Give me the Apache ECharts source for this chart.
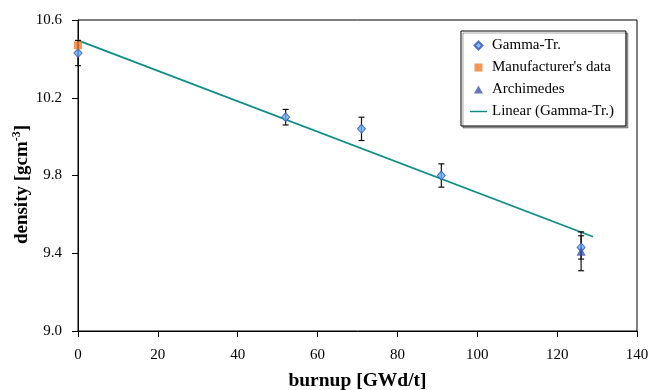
<!DOCTYPE html>
<html>
<head>
<meta charset="utf-8">
<script src="https://cdn.jsdelivr.net/npm/echarts@6/dist/echarts.min.js"></script>
<style>
  html, body { margin: 0; padding: 0; background: #fff; }
  #main { width: 661px; height: 390px; }
</style>
</head>
<body>
<div id="main"></div>
<script>
// values
var gammaX = [0, 52, 71, 91, 126];
var gammaY = [10.43, 10.10, 10.04, 9.80, 9.43];
var gammaErr = [0.065, 0.04, 0.06, 0.06, 0.06];
var manufX = [0];
var manufY = [10.47];
var archX = [126];
var archY = [9.41];
var archErr = [0.10];
var trendX = [0, 129];
var trendY = [10.495, 9.485];

var FONT = '"Liberation Serif", "Times New Roman", serif';

function zip(xs, ys) {
    return xs.map(function (x, i) { return [x, ys[i]]; });
}
function errData(xs, ys, es) {
    return xs.map(function (x, i) { return [x, ys[i] - es[i], ys[i] + es[i]]; });
}

function renderErr(params, api) {
    var lo = api.coord([api.value(0), api.value(1)]);
    var hi = api.coord([api.value(0), api.value(2)]);
    var w = 3;
    var st = { stroke: '#111', lineWidth: 1.2 };
    return {
        type: 'group',
        children: [
            { type: 'line', shape: { x1: lo[0], y1: lo[1], x2: hi[0], y2: hi[1] }, style: st },
            { type: 'line', shape: { x1: lo[0] - w, y1: lo[1], x2: lo[0] + w, y2: lo[1] }, style: st },
            { type: 'line', shape: { x1: hi[0] - w, y1: hi[1], x2: hi[0] + w, y2: hi[1] }, style: st }
        ]
    };
}

var chart = echarts.init(document.getElementById('main'), null, { renderer: 'canvas' });

var option = {
    backgroundColor: '#fff',
    animation: false,
    textStyle: { fontFamily: FONT },
    grid: {
        left: 78, right: 24, top: 20, bottom: 59,
        containLabel: false,
        outerBoundsMode: 'none',
        show: true, borderColor: '#000', borderWidth: 1
    },
    legend: {
        orient: 'vertical',
        left: 461, top: 31,
        padding: [7, 12, 7, 9],
        itemGap: 7,
        itemWidth: 17,
        itemHeight: 8,
        symbolKeepAspect: true,
        borderColor: '#000',
        borderWidth: 1,
        backgroundColor: '#fff',
        shadowColor: 'rgba(0,0,0,0.35)',
        shadowOffsetX: 2,
        shadowOffsetY: 2,
        textStyle: { fontFamily: FONT, fontSize: 15, color: '#000' },
        data: [
            { name: 'Gamma-Tr.', icon: 'path://M0,-1L1,0L0,1L-1,0Z' },
            { name: "Manufacturer's data", icon: 'path://M0,0H1V1H0Z' },
            { name: 'Archimedes', icon: 'path://M0,-1L1,0.8H-1Z' },
            { name: 'Linear (Gamma-Tr.)', icon: 'path://M0,0H20V1.7H0Z' }
        ]
    },
    xAxis: {
        type: 'value',
        min: 0, max: 140, interval: 20,
        name: 'burnup [GWd/t]',
        nameLocation: 'middle',
        nameGap: 40,
        nameTextStyle: { fontFamily: FONT, fontSize: 19.5, fontWeight: 'bold', color: '#000' },
        axisLine: { lineStyle: { color: '#000', width: 1 } },
        axisTick: { show: true, length: 6, inside: false, lineStyle: { color: '#000' } },
        axisLabel: { fontFamily: FONT, fontSize: 15, color: '#000', margin: 17 },
        splitLine: { show: false }
    },
    yAxis: {
        type: 'value',
        min: 9.0, max: 10.6, interval: 0.4,
        name: '{b|density [gcm}{s|-3}{b|]}',
        nameLocation: 'middle',
        nameGap: 45,
        nameMoveOverlap: false,
        nameTextStyle: {
            padding: [0, 18, 0, 0],
            rich: {
                b: { fontFamily: FONT, fontSize: 19, fontWeight: 'bold', color: '#000', lineHeight: 22 },
                s: { fontFamily: FONT, fontSize: 12, fontWeight: 'bold', color: '#000', verticalAlign: 'top', lineHeight: 22 }
            }
        },
        axisLine: { show: true, lineStyle: { color: '#000', width: 1 } },
        axisTick: { show: true, length: 6, inside: false, lineStyle: { color: '#000' } },
        axisLabel: {
            fontFamily: FONT, fontSize: 15, color: '#000', margin: 16,
            padding: [5, 0, 0, 0],
            formatter: function (v) { return v.toFixed(1); }
        },
        splitLine: { show: false }
    },
    series: [
        {
            name: 'Linear (Gamma-Tr.)',
            type: 'line',
            data: zip(trendX, trendY),
            symbol: 'none',
            lineStyle: { color: '#0C8E88', width: 1.8 },
            itemStyle: { color: '#0C8E88' },
            z: 2
        },
        {
            name: 'gammaErr',
            type: 'custom',
            renderItem: renderErr,
            data: errData(gammaX, gammaY, gammaErr),
            encode: { x: 0, y: [1, 2] },
            z: 3
        },
        {
            name: 'archErr',
            type: 'custom',
            renderItem: renderErr,
            data: errData(archX, archY, archErr),
            encode: { x: 0, y: [1, 2] },
            z: 3
        },
        {
            name: 'Gamma-Tr.',
            type: 'scatter',
            data: zip(gammaX, gammaY),
            symbol: 'diamond',
            symbolSize: [8, 9],
            itemStyle: { color: '#66B2F0', borderColor: '#3250C0', borderWidth: 1 },
            z: 4
        },
        {
            name: "Manufacturer's data",
            type: 'scatter',
            data: zip(manufX, manufY),
            symbol: 'rect',
            symbolSize: 8,
            itemStyle: { color: '#F47A2E' },
            z: 5
        },
        {
            name: 'Archimedes',
            type: 'scatter',
            data: zip(archX, archY),
            symbol: 'triangle',
            symbolSize: 9,
            itemStyle: { color: '#3A56B0' },
            z: 5
        }
    ]
};

chart.setOption(option);
</script>
</body>
</html>
